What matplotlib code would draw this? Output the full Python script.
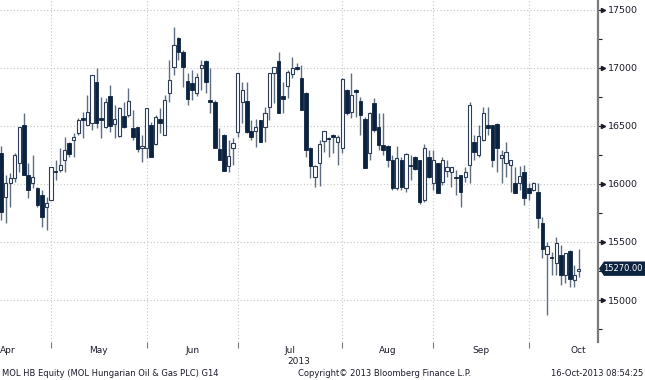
import matplotlib
matplotlib.use('Agg')
import matplotlib.pyplot as plt
import matplotlib.transforms as mtransforms
from matplotlib.patches import Polygon
import numpy as np

# ---------------- data ----------------
opens = [16265,15891,16006,16049,16178,16509,16078,16012,15963,15905,15805,15862,16107,16121,16207,16356,16379,16437,16566,16509,16523,16882,
         16566,16489,16759,16518,16414,16587,16595,16480,16489,16308,16308,16509,16345,16561,16423,16788,17012,17256,17141,16891,16874,
         16781,16997,17063,16724,16707,16299,16422,16155,16307,16451,16709,16715,16460,16460,16551,16494,16666,16954,17063,16758,16845,
         16948,17006,16911,16787,16307,16063,16178,16374,16394,16420,16362,16307,16810,16623,16810,16715,16557,16264,16695,16490,
         16336,16328,16207,15966,16207,15966,16160,16233,16207,15862,16233,16009,16181,16017,16112,16103,16060,16078,16060,
         16164,16362,16250,16379,16509,16509,16517,16224,16181,16164,16009,16009,16104,15966,15948,15931,15664,15397,15365,15319,15388,15216,15422,15173,15250]
highs = [16330,16078,16092,16265,16494,16609,16178,16250,15977,15948,15891,16150,16207,16308,16408,16365,16437,16566,16624,16767,16940,16997,
         16753,16739,16854,16681,16661,16710,16825,16638,16495,16423,16653,16538,16595,16653,16767,17069,17357,17270,17155,16954,16983,
         16959,17069,17069,16997,16724,16480,16431,16379,16393,16959,16882,16882,16551,16557,16551,16666,16954,17011,17140,16882,16983,
         17098,17040,17026,16796,16322,16164,16379,16457,16402,16431,16422,16911,16816,16954,16816,16753,16580,16623,16738,16609,
         16612,16340,16250,16328,16230,16267,16250,16240,16210,16345,16293,16293,16181,16230,16207,16147,16121,16078,16147,
         16707,16422,16509,16660,16664,16509,16526,16293,16362,16207,16147,16155,16164,16009,16020,16009,15716,15500,15414,15543,15474,15405,15431,15302,15440]
lows = [15690,15661,15805,16020,16107,16078,15877,15963,15805,15632,15604,15862,16035,16107,16107,16236,16236,16423,16394,16509,16466,16480,
        16394,16480,16452,16394,16408,16480,16581,16380,16279,16193,16220,16236,16337,16437,16423,16710,16940,17069,16839,16681,16724,
        16758,16810,16781,16609,16307,16207,16115,16106,16164,16408,16523,16437,16379,16322,16365,16365,16551,16695,16609,16609,16738,
        16911,16983,16638,16236,16049,15977,15983,16279,16230,16264,16164,16264,16595,16566,16580,16422,16135,16207,16451,16293,
        16250,16150,15950,15950,15950,15931,16035,16120,15830,15845,16052,15948,15922,15990,16060,15974,15905,15802,16017,
        16009,16207,16233,16370,16422,16147,16104,16009,16060,15931,15922,15948,15819,15862,15940,15621,15362,14871,15216,15216,15130,15147,15112,15112,15198]
closes = [15762,16006,16049,16250,16494,16078,15948,16058,15819,15719,15834,16150,16100,16164,16293,16259,16408,16552,16552,16624,16940,16523,
          16552,16710,16500,16558,16653,16489,16716,16408,16299,16328,16653,16236,16575,16523,16724,16897,17198,17141,17012,16730,16811,
          16919,17026,16882,16707,16307,16207,16115,16241,16356,16954,16810,16451,16408,16488,16365,16609,16954,17005,16615,16730,16968,
          16997,16988,16638,16293,16155,16155,16342,16457,16385,16402,16402,16902,16615,16767,16796,16595,16135,16609,16466,16340,
          16293,16207,15966,16224,15974,16259,16155,16130,15845,16310,16060,16207,15922,16207,16147,16147,16050,15931,16103,
          16681,16276,16414,16612,16483,16207,16310,16250,16276,16207,15922,16069,15879,15922,16009,15707,15440,15466,15360,15492,15216,15405,15181,15216,15270]

month_bounds = [11, 32, 52, 75, 95, 116]          # first trading day index of May..Oct
month_labels = ['Apr', 'May', 'Jun', 'Jul', 'Aug', 'Sep', 'Oct']
month_label_pos = [1.5, 21.5, 42, 63.5, 85, 105.5, 126.8]
y_major = [15000, 15500, 16000, 16500, 17000, 17500]
last_price = 15270.00
year_label = '2013'
footer_left = 'MOL HB Equity (MOL Hungarian Oil & Gas PLC) G14'
footer_mid = 'Copyright\u00a9 2013 Bloomberg Finance L.P.'
footer_right = '16-Oct-2013 08:54:25'

# ---------------- figure ----------------
W, H = 645, 380
fig = plt.figure(figsize=(W / 100, H / 100), dpi=100)
fig.patch.set_facecolor('white')
ax = fig.add_axes([0, 1 - 342 / H, 598 / W, 342 / H])

navy = '#0c2340'
wick_c = '#5e6e80'
grid_c = '#c4c4c4'
text_c = '#1b1b2b'

o = np.array(opens, float); h = np.array(highs, float)
l = np.array(lows, float); c = np.array(closes, float)
x = np.arange(len(o))
up = c >= o

ax.vlines(x, l, h, color=wick_c, linewidth=1.0, zorder=2)
bottom = np.minimum(o, c)
height = np.maximum(np.abs(c - o), 8)
ax.bar(x[~up], height[~up], bottom=bottom[~up], width=0.8, color=navy,
       edgecolor=navy, linewidth=0.6, zorder=3)
ax.bar(x[up], height[up], bottom=bottom[up], width=0.7, color='white',
       edgecolor='#2c3c55', linewidth=0.8, zorder=3)

ax.set_xlim(-0.22, 131.2)
ax.set_ylim(14638, 17586)

# grid
for yv in y_major:
    ax.axhline(yv, color=grid_c, linewidth=0.8, linestyle=(0, (1, 2)), zorder=0)
for xv in month_bounds:
    ax.axvline(xv, color=grid_c, linewidth=0.8, linestyle=(0, (1, 2)), zorder=0)

# spines
for s in ['left', 'top', 'bottom']:
    ax.spines[s].set_visible(False)
ax.spines['right'].set_color('#7a7a7a')
ax.spines['right'].set_linewidth(1.6)

# y ticks on right
ax.yaxis.tick_right()
ax.set_yticks(y_major)
ax.set_yticklabels([str(v) for v in y_major])
ax.set_yticks(np.arange(14750, 17600, 250), minor=True)
ax.tick_params(axis='y', which='major', length=3, width=0.8, color=text_c,
               pad=4, labelsize=6.8, labelcolor=text_c)
ax.tick_params(axis='y', which='minor', length=3, width=0.8, color=text_c)
trans_y = mtransforms.blended_transform_factory(ax.transAxes, ax.transData)
ax.plot([1.0 + 5 / 598] * len(y_major), y_major, linestyle='none', marker='>',
        markersize=3, color=text_c, transform=trans_y, clip_on=False, zorder=5)

# x ticks
ax.set_xticks(month_bounds)
ax.set_xticklabels([''] * len(month_bounds))
ax.set_xticks(month_label_pos, minor=True)
ax.set_xticklabels(month_labels, minor=True)
ax.tick_params(axis='x', which='major', length=4, width=0.8, color='#7a7a7a', direction='out')
ax.tick_params(axis='x', which='minor', length=0, pad=3, labelsize=6.5, labelcolor=text_c)

trans_x = mtransforms.blended_transform_factory(ax.transData, fig.transFigure)
ax.text(65.5, 1 - 361 / H, year_label, transform=trans_x, ha='center', va='center',
        fontsize=6.5, color=text_c)

# last price tag
dy = 62
tag = Polygon([(1.0 + 1 / 598, last_price), (1.0 + 6 / 598, last_price + dy),
               (W / 598, last_price + dy), (W / 598, last_price - dy),
               (1.0 + 6 / 598, last_price - dy)], closed=True,
              facecolor=navy, edgecolor='none', transform=trans_y, clip_on=False, zorder=6)
ax.add_patch(tag)
ax.text(1.0 + 5 / 598, last_price, f'{last_price:.2f}', transform=trans_y, ha='left',
        va='center', fontsize=6.0, color='white', zorder=7, clip_on=False)

# footer
fy = 1 - 374 / H
fig.text(2 / W, fy, footer_left, ha='left', va='center', fontsize=6.0, color=text_c)
fig.text(385 / W, fy, footer_mid, ha='center', va='center', fontsize=6.0, color=text_c)
fig.text(643 / W, fy, footer_right, ha='right', va='center', fontsize=6.0, color=text_c)

fig.savefig('out.png', dpi=100, facecolor='white')
